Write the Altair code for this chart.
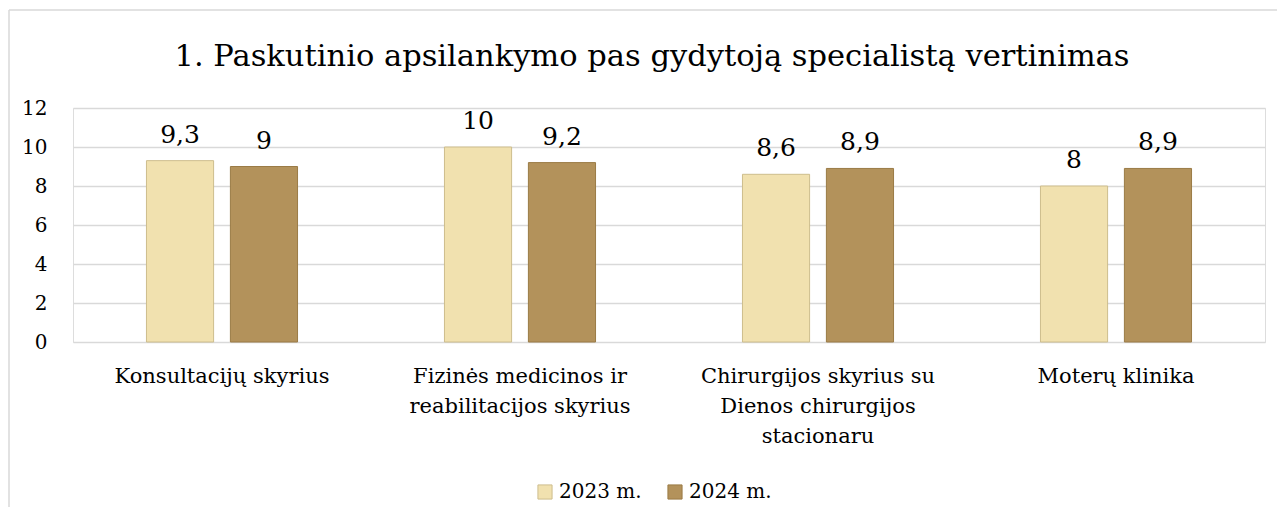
import altair as alt
import pandas as pd

categories = [
    "Konsultacijų skyrius",
    "Fizinės medicinos ir\nreabilitacijos skyrius",
    "Chirurgijos skyrius su\nDienos chirurgijos\nstacionaru",
    "Moterų klinika",
]
series = ["2023 m.", "2024 m."]
values_2023 = [9.3, 10, 8.6, 8]
values_2024 = [9, 9.2, 8.9, 8.9]
y_ticks = [0, 2, 4, 6, 8, 10, 12]
title_text = "1. Paskutinio apsilankymo pas gydytoją specialistą vertinimas"

rows = []
for c, v in zip(categories, values_2023):
    rows.append({"cat": c, "series": series[0], "value": v})
for c, v in zip(categories, values_2024):
    rows.append({"cat": c, "series": series[1], "value": v})
df = pd.DataFrame(rows)

FONT = "DejaVu Serif"
fill_colors = ["#F1E1AF", "#B3925B"]
stroke_colors = ["#CDBD8D", "#9A7B46"]

x_enc = alt.X("cat:N", sort=categories, title=None,
              scale=alt.Scale(paddingInner=0.493, paddingOuter=0.2465),
              axis=alt.Axis(labelExpr="split(datum.label, '\\n')", labelAngle=0,
                            labelFontSize=21, labelLineHeight=30, labelPadding=23,
                            labelFont=FONT, labelColor="#000000", ticks=False,
                            domain=False, grid=False, labelLimit=400))
xoff = alt.XOffset("series:N", sort=series,
                   scale=alt.Scale(paddingInner=0.2, paddingOuter=0))
y_enc = alt.Y("value:Q", title=None,
              scale=alt.Scale(domain=[0, 12], nice=False),
              axis=alt.Axis(values=y_ticks, ticks=False, domain=False,
                            labelFontSize=20, labelFont=FONT, labelColor="#000000",
                            labelPadding=26, gridColor="#D9D9D9", gridWidth=1.3,
                            labelOverlap=False))

base = alt.Chart(df)

leg = dict(title=None, orient="none", direction="horizontal",
           legendX=462, legendY=374, symbolType="square",
           symbolSize=200, symbolStrokeWidth=1,
           labelFont=FONT, labelFontSize=20,
           labelColor="#000000", columnPadding=23)

bars = base.mark_bar(strokeWidth=1).encode(
    x=x_enc,
    xOffset=xoff,
    y=y_enc,
    color=alt.Color("series:N", sort=series,
                    scale=alt.Scale(domain=series, range=fill_colors),
                    legend=alt.Legend(**leg)),
    stroke=alt.Stroke("series:N", sort=series,
                      scale=alt.Scale(domain=series, range=stroke_colors),
                      legend=alt.Legend(**leg)),
)

labels = base.transform_calculate(
    lbl="replace(toString(datum.value), '.', ',')"
).mark_text(font=FONT, fontSize=25, baseline="alphabetic", dy=-18, color="#000000").encode(
    x=x_enc,
    xOffset=xoff,
    y=y_enc,
    text="lbl:N",
)

title_mark = alt.Chart(pd.DataFrame({"t": [title_text]})).mark_text(
    font=FONT, fontSize=30.5, baseline="alphabetic", align="center", color="#000000"
).encode(x=alt.value(579), y=alt.value(-42), text="t:N")

border_v = alt.Chart(pd.DataFrame({"a": [0]})).mark_rule(color="#D9D9D9", strokeWidth=1.5).encode(
    x=alt.value(-64), y=alt.value(-98), y2=alt.value(400)
)
border_h = alt.Chart(pd.DataFrame({"a": [0]})).mark_rule(color="#D9D9D9", strokeWidth=1.5).encode(
    x=alt.value(-64), x2=alt.value(1210), y=alt.value(-98)
)

chart = alt.layer(bars, labels, title_mark, border_v, border_h).properties(
    width=1192, height=234,
    padding={"left": 65, "top": 100, "right": 12, "bottom": 165},
    autosize=alt.AutoSizeParams(type="none"),
).configure_view(stroke=None).configure(background="#FFFFFF", font=FONT)

chart.save("out.html", embed_options={"renderer": "svg", "actions": False})
